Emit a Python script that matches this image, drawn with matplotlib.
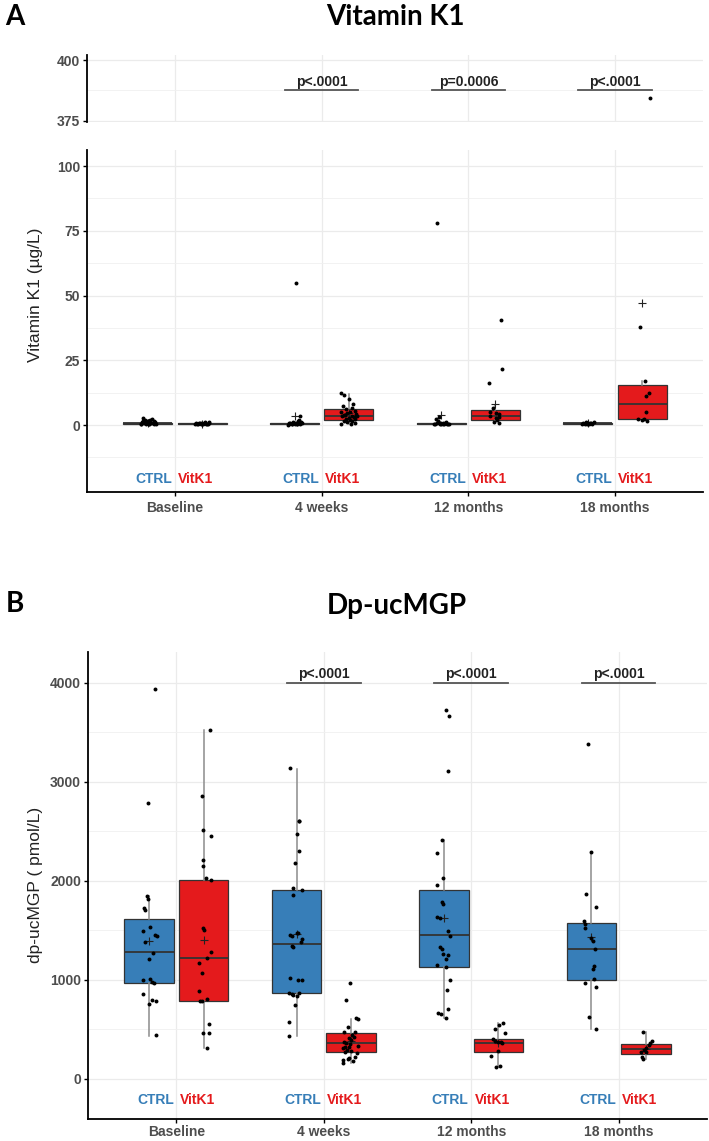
import matplotlib.pyplot as plt
import numpy as np

plt.rcParams['font.family'] = ['Liberation Sans', 'DejaVu Sans']

timepoints = ['Baseline', '4 weeks', '12 months', '18 months']
p_labels_k1 = ['', 'p<.0001', 'p=0.0006', 'p<.0001']
p_labels_mgp = ['', 'p<.0001', 'p<.0001', 'p<.0001']

# box stats per timepoint: [whislo, q1, med, q3, whishi, mean]
k1_ctrl_box = [[0.1, 0.3, 0.6, 0.9, 1.8, 0.9],
               [0.1, 0.2, 0.35, 0.6, 1.1, 3.6],
               [0.1, 0.2, 0.35, 0.6, 1.1, 3.8],
               [0.2, 0.4, 0.6, 0.8, 1.3, 0.7]]
k1_vitk_box = [[0.1, 0.25, 0.45, 0.65, 1.2, 0.5],
               [0.3, 2.0, 3.6, 6.0, 11.8, 4.6],
               [0.9, 1.9, 3.6, 5.9, 7.9, 8.0],
               [1.7, 2.2, 8.1, 15.6, 17.0, 47.2]]

# individual points: (x jitter, value)
k1_ctrl_pts = [
    [(-0.05, 0.4), (-0.04, 1.2), (-0.03, 2.7), (-0.02, 2.1), (-0.01, 0.6), (0.0, 1.5), (0.01, 0.3),
     (0.02, 0.9), (0.03, 2.4), (0.04, 0.5), (0.05, 1.1), (-0.045, 0.2), (-0.025, 0.8), (0.015, 1.9),
     (0.035, 0.7), (0.055, 0.3), (-0.035, 1.6), (0.005, 0.2), (0.045, 1.4), (-0.015, 0.5)],
    [(0.01, 55.0), (-0.04, 0.3), (-0.03, 0.8), (-0.02, 0.2), (-0.01, 1.2), (0.0, 0.5), (0.01, 0.9),
     (0.02, 0.3), (0.03, 2.0), (0.04, 3.3), (0.05, 0.6), (-0.045, 0.1), (-0.015, 0.4), (0.025, 1.5),
     (0.035, 0.2), (-0.035, 0.7), (0.045, 1.0), (0.015, 0.3)],
    [(-0.026, 78.0), (-0.05, 0.3), (-0.04, 0.2), (-0.03, 0.6), (-0.02, 1.4), (-0.01, 0.4), (0.0, 0.2),
     (0.01, 0.9), (0.02, 0.3), (0.03, 1.1), (0.04, 0.5), (0.05, 0.2), (-0.035, 2.5), (-0.015, 3.0),
     (0.025, 0.7), (0.045, 0.4), (0.015, 0.3), (-0.005, 0.8)],
    [(-0.04, 0.4), (-0.03, 0.8), (-0.02, 0.3), (-0.01, 1.1), (0.0, 0.6), (0.01, 0.2), (0.02, 0.9),
     (0.03, 0.5), (0.04, 1.2), (-0.005, 0.3), (0.015, 0.7)],
]
k1_vitk_pts = [
    [(-0.05, 0.3), (-0.04, 0.6), (-0.03, 0.2), (-0.02, 0.9), (-0.01, 0.4), (0.0, 0.2), (0.01, 0.7),
     (0.02, 1.1), (0.03, 0.3), (0.04, 0.5), (0.05, 1.3), (-0.035, 0.4), (-0.015, 0.6), (0.025, 0.2),
     (0.045, 0.8), (0.005, 0.5)],
    [(-0.05, 12.3), (-0.03, 11.5), (0.0, 10.2), (0.03, 8.3), (-0.04, 7.5), (0.02, 6.6), (-0.02, 6.1),
     (0.04, 5.6), (-0.05, 5.2), (0.01, 4.9), (-0.01, 4.5), (0.05, 4.2), (-0.03, 3.9), (0.02, 3.6),
     (-0.045, 3.3), (0.035, 3.0), (0.0, 2.8), (-0.02, 2.5), (0.045, 2.2), (0.01, 2.0), (-0.035, 1.7),
     (0.025, 1.4), (-0.01, 1.1), (0.04, 0.8), (-0.05, 0.5), (0.015, 0.3), (0.055, 3.4), (-0.025, 4.0)],
    [(0.039, 40.4), (0.045, 21.7), (-0.041, 16.1), (-0.014, 6.5), (-0.036, 5.1), (0.005, 4.7),
     (0.023, 4.1), (-0.036, 3.6), (0.027, 3.2), (0.005, 2.6), (-0.007, 1.3), (0.023, 0.9), (0.01, 2.0)],
    [(0.054, 384.4), (-0.014, 37.8), (0.02, 17.0), (0.045, 12.2), (0.023, 11.3), (0.023, 5.1),
     (-0.03, 2.2), (0.016, 2.2), (0.032, 1.7), (0.0, 2.0)],
]

mgp_ctrl_box = [[437, 973, 1280, 1613, 1851, 1394],
                [434, 872, 1364, 1909, 3131, 1465],
                [613, 1131, 1458, 1909, 2414, 1620],
                [505, 1003, 1313, 1579, 2296, 1436]]
mgp_vitk_box = [[316, 786, 1225, 2010, 3518, 1404],
                [165, 277, 364, 468, 609, 380],
                [124, 273, 367, 407, 569, 360],
                [199, 249, 303, 357, 475, 305]]

mgp_ctrl_pts = [
    [(-0.018, 1848), (-0.009, 1818), (-0.036, 1727), (-0.027, 1710), (-0.041, 1498), (0.005, 1532),
     (0.041, 1458), (0.050, 1440), (-0.027, 1385), (0.027, 1276), (-0.002, 1216), (-0.041, 1000),
     (0.009, 1010), (0.020, 980), (0.036, 970), (-0.045, 855), (-0.002, 760), (0.020, 795),
     (0.045, 790), (0.043, 440), (0.041, 3933), (-0.009, 2785)],
    [(-0.045, 3141), (0.014, 2603), (0.020, 2600), (0.0, 2475), (0.018, 2300), (-0.011, 2180),
     (-0.027, 1926), (0.034, 1905), (-0.023, 1855), (0.011, 1478), (0.0, 1470), (-0.045, 1450),
     (-0.029, 1440), (-0.034, 1340), (-0.027, 1330), (0.034, 1412), (0.032, 1380), (-0.045, 1016),
     (0.007, 1000), (0.039, 1000), (-0.050, 866), (-0.034, 855), (0.018, 868), (-0.023, 845),
     (0.0, 840), (-0.011, 746), (-0.054, 580), (-0.050, 430)],
    [(0.012, 3720), (0.033, 3663), (0.026, 3108), (-0.015, 2414), (-0.044, 2286), (-0.003, 2033),
     (-0.044, 1953), (-0.012, 1790), (-0.003, 1767), (-0.046, 1640), (-0.028, 1620), (0.031, 1490),
     (0.040, 1440), (-0.028, 1330), (-0.010, 1310), (0.012, 1215), (-0.003, 1265), (0.031, 1250),
     (-0.046, 1150), (0.012, 1131), (0.040, 1000), (0.024, 895), (0.028, 710), (-0.037, 667),
     (-0.017, 660), (0.012, 613)],
    [(-0.025, 3378), (-0.002, 2296), (-0.039, 1872), (0.029, 1731), (-0.050, 1590), (-0.041, 1560),
     (-0.045, 1525), (-0.002, 1425), (0.011, 1390), (0.027, 1310), (0.018, 1138), (0.014, 1111),
     (0.018, 1010), (-0.041, 969), (0.034, 929), (-0.018, 623), (0.029, 505)],
]
mgp_vitk_pts = [
    [(0.041, 3518), (-0.014, 2856), (-0.007, 2512), (0.052, 2454), (-0.007, 2212), (-0.007, 2151),
     (0.016, 2030), (0.048, 2010), (-0.005, 1522), (0.002, 1505), (0.048, 1280), (0.025, 1225),
     (-0.029, 1175), (-0.014, 1067), (-0.029, 892), (0.020, 805), (-0.025, 786), (-0.014, 783),
     (0.039, 555), (-0.007, 461), (0.034, 461), (0.020, 316)],
    [(-0.005, 973), (-0.034, 798), (0.036, 613), (0.045, 603), (-0.023, 528), (-0.050, 478),
     (0.025, 478), (0.007, 440), (0.018, 425), (-0.016, 410), (0.002, 394), (-0.050, 373),
     (-0.034, 367), (-0.005, 357), (-0.043, 323), (-0.016, 323), (-0.054, 316), (-0.029, 296),
     (-0.039, 273), (0.002, 283), (-0.057, 192), (-0.020, 202), (-0.011, 209), (0.029, 222),
     (-0.054, 165), (0.010, 179), (0.045, 330), (0.040, 265)],
    [(0.031, 569), (0.003, 545), (-0.024, 505), (0.042, 465), (-0.037, 400), (-0.026, 385),
     (-0.006, 378), (0.015, 372), (0.026, 365), (-0.003, 280), (-0.051, 233), (-0.015, 124),
     (0.008, 131)],
    [(-0.020, 475), (0.039, 384), (0.029, 367), (0.020, 340), (-0.002, 310), (-0.014, 293),
     (-0.036, 270), (-0.002, 270), (-0.027, 220), (-0.020, 199)],
]

blue = '#377EB8'
red = '#E41A1C'
tick_grey = '#4D4D4D'
off = 0.185


def draw_boxes(ax, boxes, dx, color):
    stats = [dict(whislo=b[0], q1=b[1], med=b[2], q3=b[3], whishi=b[4], mean=b[5], fliers=[])
             for b in boxes]
    ax.bxp(stats, positions=np.arange(1, 5) + dx, widths=0.335, patch_artist=True,
           showmeans=True, showcaps=False, showfliers=False,
           boxprops=dict(facecolor=color, edgecolor='#333333', linewidth=0.9),
           whiskerprops=dict(color='#8C8C8C', linewidth=1.1),
           medianprops=dict(color='#333333', linewidth=1.3),
           meanprops=dict(marker='+', markeredgecolor='#222222', markersize=5.5, markeredgewidth=0.8),
           zorder=2)


def draw_points(ax, pts, dx):
    for i, group in enumerate(pts):
        xs = [i + 1 + dx + d for d, v in group]
        ys = [v for d, v in group]
        ax.scatter(xs, ys, s=8, color='black', linewidths=0, zorder=3)


def style(ax, ylim, major, minor):
    ax.set_xlim(0.4, 4.6)
    ax.set_ylim(*ylim)
    ax.set_yticks(major)
    ax.set_yticks(minor, minor=True)
    ax.set_xticks(range(1, 5))
    ax.set_axisbelow(True)
    ax.grid(True, which='major', color='#EBEBEB', lw=0.9)
    ax.grid(True, which='minor', axis='y', color='#F0F0F0', lw=0.6)
    ax.tick_params(which='minor', length=0)
    ax.tick_params(which='major', length=3, width=1, pad=2, labelsize=10, labelcolor=tick_grey)
    ax.spines['top'].set_visible(False)
    ax.spines['right'].set_visible(False)
    ax.spines['left'].set_linewidth(1.3)
    ax.spines['bottom'].set_linewidth(1.3)
    for lab in ax.get_yticklabels() + ax.get_xticklabels():
        lab.set_fontweight('bold')


def group_labels(ax, y):
    for i in range(4):
        ax.text(i + 1 - 0.143, y, 'CTRL', ha='center', va='center', color=blue,
                fontsize=10, fontweight='bold')
        ax.text(i + 1 + 0.143, y, 'VitK1', ha='center', va='center', color=red,
                fontsize=10, fontweight='bold')


def p_values(ax, y, labels, pad):
    for i, s in enumerate(labels):
        if not s:
            continue
        ax.plot([i + 1 - 0.25, i + 1 + 0.25], [y, y], color='#555555', lw=1.3, zorder=4)
        ax.text(i + 1, y + pad, s, ha='center', va='bottom', fontsize=10, fontweight='bold',
                color='#222222')


W, H = 709, 1141
fig = plt.figure(figsize=(W / 100, H / 100), dpi=100)


def box_axes(x0, y0, x1, y1):
    return fig.add_axes([x0 / W, 1 - y1 / H, (x1 - x0) / W, (y1 - y0) / H])


# Panel A: broken y axis
ax_top = box_axes(87, 55, 703, 121.7)
ax_a = box_axes(87, 150, 703, 491.7)
for ax in (ax_top, ax_a):
    draw_boxes(ax, k1_ctrl_box, -off, blue)
    draw_boxes(ax, k1_vitk_box, off, red)
    draw_points(ax, k1_ctrl_pts, -off)
    draw_points(ax, k1_vitk_pts, off)

style(ax_top, (374.6, 402.1), [375, 400], [387.5])
ax_top.spines['bottom'].set_visible(False)
ax_top.tick_params(axis='x', length=0, labelbottom=False)
p_values(ax_top, 387.5, p_labels_k1, 0.5)

style(ax_a, (-25.75, 106.2), [0, 25, 50, 75, 100], [-12.5, 12.5, 37.5, 62.5, 87.5])
ax_a.set_xticklabels(timepoints)
for lab in ax_a.get_xticklabels():
    lab.set_fontweight('bold')
ax_a.tick_params(axis='x', pad=4)
group_labels(ax_a, -20.8)

fig.text(15 / W, 1 - 17 / H, 'A', ha='center', va='center', fontsize=20, fontweight='bold',
         family=['Lato', 'DejaVu Sans'])
fig.text(395 / W, 1 - 17 / H, 'Vitamin K1', ha='center', va='center', fontsize=20,
         fontweight='bold', family=['Lato', 'DejaVu Sans'])
fig.text(36 / W, 1 - 295 / H, 'Vitamin K1 (µg/L)', ha='center', va='center', rotation=90,
         fontsize=12.5, color='#222222')

# Panel B
ax_b = box_axes(88, 651.7, 707, 1119)
draw_boxes(ax_b, mgp_ctrl_box, -off, blue)
draw_boxes(ax_b, mgp_vitk_box, off, red)
draw_points(ax_b, mgp_ctrl_pts, -off)
draw_points(ax_b, mgp_vitk_pts, off)
style(ax_b, (-404, 4313), [0, 1000, 2000, 3000, 4000], [500, 1500, 2500, 3500])
ax_b.set_xticklabels(timepoints)
for lab in ax_b.get_xticklabels():
    lab.set_fontweight('bold')
ax_b.tick_params(axis='x', pad=1.5)
group_labels(ax_b, -212)
p_values(ax_b, 4000, p_labels_mgp, 18)

fig.text(15 / W, 1 - 604 / H, 'B', ha='center', va='center', fontsize=20, fontweight='bold',
         family=['Lato', 'DejaVu Sans'])
fig.text(397 / W, 1 - 606 / H, 'Dp-ucMGP', ha='center', va='center', fontsize=20,
         fontweight='bold', family=['Lato', 'DejaVu Sans'])
fig.text(36 / W, 1 - 885 / H, 'dp-ucMGP ( pmol/L)', ha='center', va='center', rotation=90,
         fontsize=12.5, color='#222222')

fig.savefig('out.png', dpi=100)
